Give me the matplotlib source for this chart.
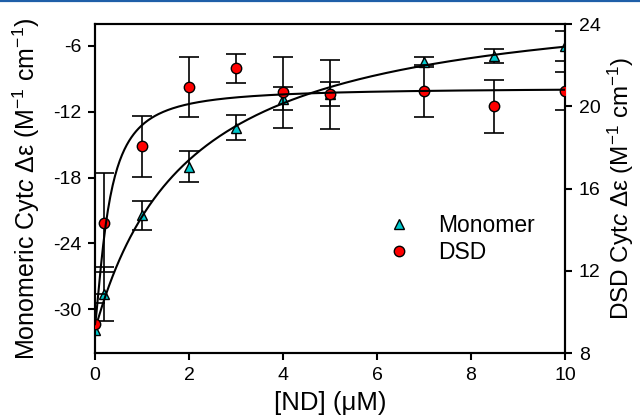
import matplotlib
matplotlib.use('Agg')
import matplotlib.pyplot as plt
from matplotlib.lines import Line2D
import numpy as np

plt.rcParams['font.family'] = ['Liberation Sans', 'DejaVu Sans']
plt.rcParams['mathtext.fontset'] = 'custom'
plt.rcParams['mathtext.rm'] = 'Liberation Sans'
plt.rcParams['mathtext.it'] = 'Liberation Sans:italic'
plt.rcParams['axes.unicode_minus'] = False

# titration points: [ND] in uM
conc = [0, 0.2, 1, 2, 3, 4, 5, 7, 8.5, 10]
# monomeric cyt c (left axis)
mono = [-31.9, -28.6, -21.45, -17.0, -13.45, -10.8, -10.35, -7.45, -6.9, -6.0]
mono_err = [2.5, 2.45, 1.3, 1.4, 1.15, 1.05, 1.1, 0.45, 0.65, 1.36]
# domain swapped dimer (right axis)
dsd = [9.4, 14.34, 18.05, 20.93, 21.85, 20.68, 20.58, 20.73, 20.0, 20.73]
dsd_err = [1.46, 2.4, 1.5, 1.46, 0.7, 1.73, 1.68, 1.27, 1.3, 0.93]

# fit parameters
mono_y0, mono_A, mono_K = -31.9, 31.0, 2.0
dsd_y0, dsd_A, dsd_K, dsd_n = 9.4, 11.5, 0.29, 1.35

xs = np.linspace(0, 10, 400)
mono_fit = mono_y0 + mono_A * xs / (mono_K + xs)
dsd_fit = dsd_y0 + dsd_A * xs**dsd_n / (dsd_K**dsd_n + xs**dsd_n)

cyan = '#00c8cc'
red = '#ff0000'

fig = plt.figure(figsize=(6.4, 4.19), dpi=100)
ax = fig.add_axes([0.1484, 0.1575, 0.7344, 0.7852])
ax2 = ax.twinx()

ax.errorbar(conc, mono, yerr=mono_err, fmt='none', ecolor='k', elinewidth=1.2,
            capsize=7, capthick=1.2, zorder=2)
ax.plot(conc, mono, linestyle='none', marker='^', ms=6.5, mfc=cyan, mec='k',
        mew=1.0, zorder=3)
ax.plot(xs, mono_fit, color='k', lw=1.5, zorder=4)

ax2.errorbar(conc, dsd, yerr=dsd_err, fmt='none', ecolor='k', elinewidth=1.2,
             capsize=7, capthick=1.2, zorder=2)
ax2.plot(conc, dsd, linestyle='none', marker='o', ms=7.5, mfc=red, mec='k',
         mew=1.0, zorder=3)
ax2.plot(xs, dsd_fit, color='k', lw=1.5, zorder=4)

ax.set_xlim(0, 10)
ax.set_ylim(-34, -4)
ax2.set_ylim(8, 24)
ax.set_xticks([0, 2, 4, 6, 8, 10])
ax.set_yticks([-30, -24, -18, -12, -6])
ax2.set_yticks([8, 12, 16, 20, 24])

for a in (ax, ax2):
    for s in a.spines.values():
        s.set_linewidth(1.5)
    a.tick_params(direction='out', length=5, width=1.5, labelsize=14, pad=5)

ax.set_xlabel('[ND] (μM)', fontsize=18.5)
ax.set_ylabel(r'Monomeric Cyt$\it{c}$ Δε (M$^{-1}$ cm$^{-1}$)', fontsize=18)
ax2.set_ylabel(r'DSD Cyt$\it{c}$ Δε (M$^{-1}$ cm$^{-1}$)', fontsize=17.5,
               rotation=90)
ax.xaxis.set_label_coords(0.5, -0.115)
ax.yaxis.set_label_coords(-0.112, 0.5)
ax2.yaxis.set_label_coords(1.086, 0.5)

handles = [
    Line2D([], [], linestyle='none', marker='^', ms=6.5, mfc=cyan, mec='k', mew=1.0),
    Line2D([], [], linestyle='none', marker='o', ms=7.5, mfc=red, mec='k', mew=1.0),
]
ax2.legend(handles, ['Monomer', 'DSD'], loc='upper left', frameon=False,
           fontsize=16.5, bbox_to_anchor=(0.579, 0.451), handletextpad=0.68,
           labelspacing=0.2, borderaxespad=0)

# blue header rule
fig.add_artist(Line2D([0, 1], [0.997, 0.997], color='#1f5fa8', lw=1.6,
                      transform=fig.transFigure))

fig.savefig('out.png', dpi=100)
